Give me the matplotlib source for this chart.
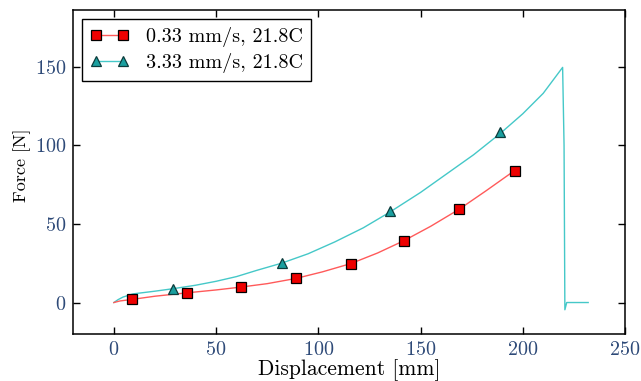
import matplotlib
matplotlib.use('Agg')
import matplotlib.pyplot as plt
from matplotlib.lines import Line2D

plt.rcParams['font.family'] = ['cmr10', 'DejaVu Serif']
plt.rcParams['axes.formatter.use_mathtext'] = True
plt.rcParams['mathtext.fontset'] = 'cm'

# Slow test (0.33 mm/s) - line trace and marker points
slow_x = [0, 3, 9, 20, 36, 50, 62, 75, 89, 102, 116, 129, 142, 155, 169, 182, 196, 198]
slow_y = [0, 1.0, 2.0, 4.0, 6.2, 8.0, 9.8, 12.0, 15.3, 19.5, 24.8, 31.5, 39.4, 48.5, 59.4, 71.0, 83.9, 85.5]
slow_mx = [9, 36, 62, 89, 116, 142, 169, 196]
slow_my = [2.0, 6.2, 9.8, 15.3, 24.8, 39.4, 59.4, 83.9]

# Fast test (3.33 mm/s) - line trace and marker points
fast_x = [0, 2, 4.5, 9.4, 20, 29, 40, 50, 60, 70, 82, 95, 108, 122, 135, 150, 163, 176, 189, 200, 210, 219.5, 220.2, 220.6, 221.5, 232]
fast_y = [0, 1.8, 3.5, 5.5, 7.2, 8.8, 11.0, 13.5, 16.5, 20.5, 25.0, 31.0, 38.5, 47.5, 57.5, 70.0, 82.0, 94.0, 107.5, 120.0, 133.0, 149.5, 100.0, -4.6, 0, 0]
fast_mx = [29, 82, 135, 189]
fast_my = [8.5, 25.0, 58.3, 108.3]

labels = ['0.33 mm/s, 21.8C', '3.33 mm/s, 21.8C']

red_line = '#ff5a5a'
red_fill = '#ee0000'
cyan_line = '#45c8c8'
cyan_fill = '#1a9f9f'

fig = plt.figure(figsize=(6.41, 3.81), dpi=100)
ax = fig.add_axes([0.1139, 0.1234, 0.8611, 0.8504])

ax.plot(fast_x, fast_y, color=cyan_line, lw=1.0)
ax.plot(slow_x, slow_y, color=red_line, lw=1.0)
ax.plot(fast_mx, fast_my, ls='none', marker='^', ms=7.5, mfc=cyan_fill, mec='#0c3c3c', mew=0.9)
ax.plot(slow_mx, slow_my, ls='none', marker='s', ms=7.5, mfc=red_fill, mec='black', mew=0.9)

ax.set_xlim(-20, 250)
ax.set_ylim(-20, 186)
ax.set_xticks([0, 50, 100, 150, 200, 250])
ax.set_yticks([0, 50, 100, 150])
ax.tick_params(direction='in', top=True, right=True, length=5, width=1,
               labelsize=14.5, labelcolor='#2e4a78', pad=5)
for s in ax.spines.values():
    s.set_linewidth(1.1)

ax.set_xlabel('Displacement [mm]', fontsize=15.5, labelpad=0)
ax.set_ylabel('Force [N]', fontsize=13)
ax.yaxis.set_label_coords(-0.076, 0.52)

handles = [
    Line2D([], [], color=red_line, lw=1.0, marker='s', ms=7.5, mfc=red_fill, mec='black', mew=0.9),
    Line2D([], [], color=cyan_line, lw=1.0, marker='^', ms=7.5, mfc=cyan_fill, mec='#0c3c3c', mew=0.9),
]
leg = ax.legend(handles, labels, loc='upper left', numpoints=2, fontsize=14.5,
                fancybox=False, framealpha=1, edgecolor='black',
                borderaxespad=0.45, handlelength=1.94, handletextpad=0.85,
                labelspacing=0.3, borderpad=0.4)
leg.get_frame().set_linewidth(1.0)

fig.savefig('out.png', dpi=100)
